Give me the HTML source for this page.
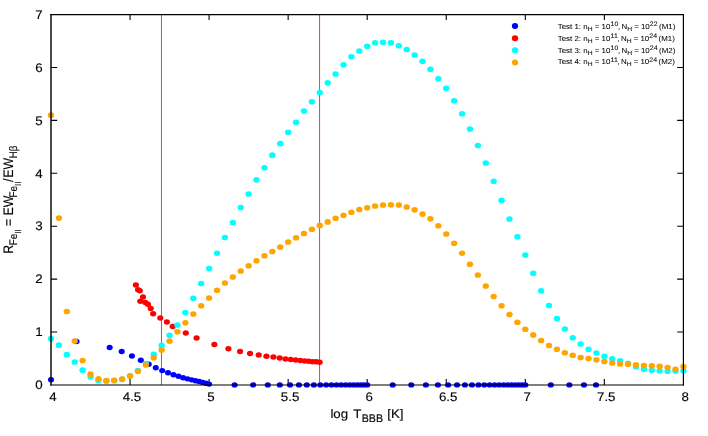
<!DOCTYPE html>
<html><head><meta charset="utf-8"><title>chart</title>
<style>
html,body{margin:0;padding:0;background:#fff;}
svg{display:block;}
text{font-family:"Liberation Sans",sans-serif;fill:#000;stroke:#000;stroke-width:0.14px;text-rendering:geometricPrecision;}
.t{font-size:12px;}
.l{font-size:6.6px;stroke-width:0.05px;}
</style></head><body>
<svg width="708" height="436" viewBox="0 0 708 436">
<rect width="708" height="436" fill="#fff"/>
<path d="M130.05 385.0v-6.1M130.05 14.5v5.4M209.10 385.0v-6.1M209.10 14.5v5.4M288.15 385.0v-6.1M288.15 14.5v5.4M367.20 385.0v-6.1M367.20 14.5v5.4M446.25 385.0v-6.1M446.25 14.5v5.4M525.30 385.0v-6.1M525.30 14.5v5.4M604.35 385.0v-6.1M604.35 14.5v5.4M51.0 332.07h6.2M683.4 332.07h-6.2M51.0 279.14h6.2M683.4 279.14h-6.2M51.0 226.21h6.2M683.4 226.21h-6.2M51.0 173.29h6.2M683.4 173.29h-6.2M51.0 120.36h6.2M683.4 120.36h-6.2M51.0 67.43h6.2M683.4 67.43h-6.2" stroke="#000" stroke-width="1.1" fill="none"/>
<line x1="161.47" y1="14.5" x2="161.47" y2="385.0" stroke="#ff0000" stroke-width="0.8"/>
<line x1="319.57" y1="14.5" x2="319.57" y2="385.0" stroke="#ff0000" stroke-width="0.8"/>
<ellipse cx="51.00" cy="379.80" rx="3.05" ry="2.72" fill="#0000ff"/>
<ellipse cx="76.51" cy="341.50" rx="3.05" ry="2.72" fill="#0000ff"/>
<ellipse cx="109.67" cy="347.55" rx="3.05" ry="2.72" fill="#0000ff"/>
<ellipse cx="121.70" cy="351.57" rx="3.05" ry="2.72" fill="#0000ff"/>
<ellipse cx="131.93" cy="356.00" rx="3.05" ry="2.72" fill="#0000ff"/>
<ellipse cx="140.83" cy="360.27" rx="3.05" ry="2.72" fill="#0000ff"/>
<ellipse cx="148.71" cy="364.30" rx="3.05" ry="2.72" fill="#0000ff"/>
<ellipse cx="155.78" cy="367.80" rx="3.05" ry="2.72" fill="#0000ff"/>
<ellipse cx="162.19" cy="370.60" rx="3.05" ry="2.72" fill="#0000ff"/>
<ellipse cx="168.05" cy="372.80" rx="3.05" ry="2.72" fill="#0000ff"/>
<ellipse cx="173.45" cy="374.80" rx="3.05" ry="2.72" fill="#0000ff"/>
<ellipse cx="178.46" cy="376.30" rx="3.05" ry="2.72" fill="#0000ff"/>
<ellipse cx="183.12" cy="377.70" rx="3.05" ry="2.72" fill="#0000ff"/>
<ellipse cx="187.49" cy="378.85" rx="3.05" ry="2.72" fill="#0000ff"/>
<ellipse cx="191.60" cy="379.85" rx="3.05" ry="2.72" fill="#0000ff"/>
<ellipse cx="195.47" cy="380.70" rx="3.05" ry="2.72" fill="#0000ff"/>
<ellipse cx="199.14" cy="381.50" rx="3.05" ry="2.72" fill="#0000ff"/>
<ellipse cx="202.62" cy="382.40" rx="3.05" ry="2.72" fill="#0000ff"/>
<ellipse cx="205.94" cy="383.20" rx="3.05" ry="2.72" fill="#0000ff"/>
<ellipse cx="209.10" cy="384.10" rx="3.05" ry="2.72" fill="#0000ff"/>
<ellipse cx="234.61" cy="384.90" rx="3.05" ry="2.72" fill="#0000ff"/>
<ellipse cx="253.17" cy="384.90" rx="3.05" ry="2.72" fill="#0000ff"/>
<ellipse cx="267.77" cy="384.90" rx="3.05" ry="2.72" fill="#0000ff"/>
<ellipse cx="279.80" cy="384.90" rx="3.05" ry="2.72" fill="#0000ff"/>
<ellipse cx="290.03" cy="384.90" rx="3.05" ry="2.72" fill="#0000ff"/>
<ellipse cx="298.93" cy="384.90" rx="3.05" ry="2.72" fill="#0000ff"/>
<ellipse cx="306.81" cy="384.90" rx="3.05" ry="2.72" fill="#0000ff"/>
<ellipse cx="313.88" cy="384.90" rx="3.05" ry="2.72" fill="#0000ff"/>
<ellipse cx="320.29" cy="384.90" rx="3.05" ry="2.72" fill="#0000ff"/>
<ellipse cx="326.15" cy="384.90" rx="3.05" ry="2.72" fill="#0000ff"/>
<ellipse cx="331.55" cy="384.90" rx="3.05" ry="2.72" fill="#0000ff"/>
<ellipse cx="336.56" cy="384.90" rx="3.05" ry="2.72" fill="#0000ff"/>
<ellipse cx="341.22" cy="384.90" rx="3.05" ry="2.72" fill="#0000ff"/>
<ellipse cx="345.59" cy="384.90" rx="3.05" ry="2.72" fill="#0000ff"/>
<ellipse cx="349.70" cy="384.90" rx="3.05" ry="2.72" fill="#0000ff"/>
<ellipse cx="353.57" cy="384.90" rx="3.05" ry="2.72" fill="#0000ff"/>
<ellipse cx="357.24" cy="384.90" rx="3.05" ry="2.72" fill="#0000ff"/>
<ellipse cx="360.72" cy="384.90" rx="3.05" ry="2.72" fill="#0000ff"/>
<ellipse cx="364.04" cy="384.90" rx="3.05" ry="2.72" fill="#0000ff"/>
<ellipse cx="367.20" cy="384.90" rx="3.05" ry="2.72" fill="#0000ff"/>
<ellipse cx="392.71" cy="384.90" rx="3.05" ry="2.72" fill="#0000ff"/>
<ellipse cx="411.27" cy="384.90" rx="3.05" ry="2.72" fill="#0000ff"/>
<ellipse cx="425.87" cy="384.90" rx="3.05" ry="2.72" fill="#0000ff"/>
<ellipse cx="437.90" cy="384.90" rx="3.05" ry="2.72" fill="#0000ff"/>
<ellipse cx="448.13" cy="384.90" rx="3.05" ry="2.72" fill="#0000ff"/>
<ellipse cx="457.03" cy="384.90" rx="3.05" ry="2.72" fill="#0000ff"/>
<ellipse cx="464.91" cy="384.90" rx="3.05" ry="2.72" fill="#0000ff"/>
<ellipse cx="471.98" cy="384.90" rx="3.05" ry="2.72" fill="#0000ff"/>
<ellipse cx="478.39" cy="384.90" rx="3.05" ry="2.72" fill="#0000ff"/>
<ellipse cx="484.25" cy="384.90" rx="3.05" ry="2.72" fill="#0000ff"/>
<ellipse cx="489.65" cy="384.90" rx="3.05" ry="2.72" fill="#0000ff"/>
<ellipse cx="494.66" cy="384.90" rx="3.05" ry="2.72" fill="#0000ff"/>
<ellipse cx="499.32" cy="384.90" rx="3.05" ry="2.72" fill="#0000ff"/>
<ellipse cx="503.69" cy="384.90" rx="3.05" ry="2.72" fill="#0000ff"/>
<ellipse cx="507.80" cy="384.90" rx="3.05" ry="2.72" fill="#0000ff"/>
<ellipse cx="511.67" cy="384.90" rx="3.05" ry="2.72" fill="#0000ff"/>
<ellipse cx="515.34" cy="384.90" rx="3.05" ry="2.72" fill="#0000ff"/>
<ellipse cx="518.82" cy="384.90" rx="3.05" ry="2.72" fill="#0000ff"/>
<ellipse cx="522.14" cy="384.90" rx="3.05" ry="2.72" fill="#0000ff"/>
<ellipse cx="525.30" cy="384.90" rx="3.05" ry="2.72" fill="#0000ff"/>
<ellipse cx="550.81" cy="384.90" rx="3.05" ry="2.72" fill="#0000ff"/>
<ellipse cx="569.37" cy="384.90" rx="3.05" ry="2.72" fill="#0000ff"/>
<ellipse cx="583.97" cy="384.90" rx="3.05" ry="2.72" fill="#0000ff"/>
<ellipse cx="596.00" cy="384.90" rx="3.05" ry="2.72" fill="#0000ff"/>
<ellipse cx="135.88" cy="284.89" rx="3.1" ry="2.75" fill="#ff0000"/>
<ellipse cx="138.05" cy="289.63" rx="3.1" ry="2.75" fill="#ff0000"/>
<ellipse cx="139.83" cy="290.82" rx="3.1" ry="2.75" fill="#ff0000"/>
<ellipse cx="143.00" cy="296.95" rx="3.1" ry="2.75" fill="#ff0000"/>
<ellipse cx="140.33" cy="301.20" rx="3.1" ry="2.75" fill="#ff0000"/>
<ellipse cx="145.27" cy="302.49" rx="3.1" ry="2.75" fill="#ff0000"/>
<ellipse cx="147.94" cy="304.37" rx="3.1" ry="2.75" fill="#ff0000"/>
<ellipse cx="150.70" cy="308.42" rx="3.1" ry="2.75" fill="#ff0000"/>
<ellipse cx="153.18" cy="313.76" rx="3.1" ry="2.75" fill="#ff0000"/>
<ellipse cx="160.30" cy="318.00" rx="3.1" ry="2.75" fill="#ff0000"/>
<ellipse cx="166.90" cy="321.90" rx="3.1" ry="2.75" fill="#ff0000"/>
<ellipse cx="172.70" cy="326.40" rx="3.1" ry="2.75" fill="#ff0000"/>
<ellipse cx="185.80" cy="332.90" rx="3.1" ry="2.75" fill="#ff0000"/>
<ellipse cx="196.60" cy="337.90" rx="3.1" ry="2.75" fill="#ff0000"/>
<ellipse cx="214.38" cy="344.60" rx="3.1" ry="2.75" fill="#ff0000"/>
<ellipse cx="228.42" cy="348.80" rx="3.1" ry="2.75" fill="#ff0000"/>
<ellipse cx="240.07" cy="351.40" rx="3.1" ry="2.75" fill="#ff0000"/>
<ellipse cx="250.03" cy="353.60" rx="3.1" ry="2.75" fill="#ff0000"/>
<ellipse cx="258.72" cy="355.10" rx="3.1" ry="2.75" fill="#ff0000"/>
<ellipse cx="266.44" cy="356.30" rx="3.1" ry="2.75" fill="#ff0000"/>
<ellipse cx="273.37" cy="357.10" rx="3.1" ry="2.75" fill="#ff0000"/>
<ellipse cx="279.67" cy="358.10" rx="3.1" ry="2.75" fill="#ff0000"/>
<ellipse cx="285.44" cy="359.00" rx="3.1" ry="2.75" fill="#ff0000"/>
<ellipse cx="290.76" cy="359.60" rx="3.1" ry="2.75" fill="#ff0000"/>
<ellipse cx="295.70" cy="360.10" rx="3.1" ry="2.75" fill="#ff0000"/>
<ellipse cx="300.31" cy="360.60" rx="3.1" ry="2.75" fill="#ff0000"/>
<ellipse cx="304.63" cy="361.00" rx="3.1" ry="2.75" fill="#ff0000"/>
<ellipse cx="308.69" cy="361.30" rx="3.1" ry="2.75" fill="#ff0000"/>
<ellipse cx="312.53" cy="361.65" rx="3.1" ry="2.75" fill="#ff0000"/>
<ellipse cx="316.16" cy="361.80" rx="3.1" ry="2.75" fill="#ff0000"/>
<ellipse cx="319.61" cy="362.20" rx="3.1" ry="2.75" fill="#ff0000"/>
<ellipse cx="51.00" cy="338.70" rx="3.18" ry="2.85" fill="#00ffff"/>
<ellipse cx="58.91" cy="345.20" rx="3.18" ry="2.85" fill="#00ffff"/>
<ellipse cx="66.81" cy="354.70" rx="3.18" ry="2.85" fill="#00ffff"/>
<ellipse cx="74.72" cy="362.00" rx="3.18" ry="2.85" fill="#00ffff"/>
<ellipse cx="82.62" cy="370.20" rx="3.18" ry="2.85" fill="#00ffff"/>
<ellipse cx="90.53" cy="376.70" rx="3.18" ry="2.85" fill="#00ffff"/>
<ellipse cx="98.43" cy="380.50" rx="3.18" ry="2.85" fill="#00ffff"/>
<ellipse cx="106.34" cy="381.00" rx="3.18" ry="2.85" fill="#00ffff"/>
<ellipse cx="114.24" cy="380.70" rx="3.18" ry="2.85" fill="#00ffff"/>
<ellipse cx="122.14" cy="379.40" rx="3.18" ry="2.85" fill="#00ffff"/>
<ellipse cx="130.05" cy="375.80" rx="3.18" ry="2.85" fill="#00ffff"/>
<ellipse cx="137.95" cy="370.60" rx="3.18" ry="2.85" fill="#00ffff"/>
<ellipse cx="145.86" cy="363.50" rx="3.18" ry="2.85" fill="#00ffff"/>
<ellipse cx="153.76" cy="354.30" rx="3.18" ry="2.85" fill="#00ffff"/>
<ellipse cx="161.67" cy="345.40" rx="3.18" ry="2.85" fill="#00ffff"/>
<ellipse cx="169.57" cy="335.25" rx="3.18" ry="2.85" fill="#00ffff"/>
<ellipse cx="177.48" cy="325.00" rx="3.18" ry="2.85" fill="#00ffff"/>
<ellipse cx="185.38" cy="312.50" rx="3.18" ry="2.85" fill="#00ffff"/>
<ellipse cx="193.29" cy="298.25" rx="3.18" ry="2.85" fill="#00ffff"/>
<ellipse cx="201.19" cy="283.50" rx="3.18" ry="2.85" fill="#00ffff"/>
<ellipse cx="209.10" cy="268.50" rx="3.18" ry="2.85" fill="#00ffff"/>
<ellipse cx="217.00" cy="253.25" rx="3.18" ry="2.85" fill="#00ffff"/>
<ellipse cx="224.91" cy="237.50" rx="3.18" ry="2.85" fill="#00ffff"/>
<ellipse cx="232.81" cy="222.50" rx="3.18" ry="2.85" fill="#00ffff"/>
<ellipse cx="240.72" cy="207.50" rx="3.18" ry="2.85" fill="#00ffff"/>
<ellipse cx="248.62" cy="194.00" rx="3.18" ry="2.85" fill="#00ffff"/>
<ellipse cx="256.53" cy="179.85" rx="3.18" ry="2.85" fill="#00ffff"/>
<ellipse cx="264.44" cy="167.75" rx="3.18" ry="2.85" fill="#00ffff"/>
<ellipse cx="272.34" cy="155.20" rx="3.18" ry="2.85" fill="#00ffff"/>
<ellipse cx="280.25" cy="143.70" rx="3.18" ry="2.85" fill="#00ffff"/>
<ellipse cx="288.15" cy="132.25" rx="3.18" ry="2.85" fill="#00ffff"/>
<ellipse cx="296.05" cy="122.25" rx="3.18" ry="2.85" fill="#00ffff"/>
<ellipse cx="303.96" cy="111.00" rx="3.18" ry="2.85" fill="#00ffff"/>
<ellipse cx="311.87" cy="101.75" rx="3.18" ry="2.85" fill="#00ffff"/>
<ellipse cx="319.77" cy="92.50" rx="3.18" ry="2.85" fill="#00ffff"/>
<ellipse cx="327.68" cy="82.75" rx="3.18" ry="2.85" fill="#00ffff"/>
<ellipse cx="335.58" cy="74.00" rx="3.18" ry="2.85" fill="#00ffff"/>
<ellipse cx="343.49" cy="64.75" rx="3.18" ry="2.85" fill="#00ffff"/>
<ellipse cx="351.39" cy="56.75" rx="3.18" ry="2.85" fill="#00ffff"/>
<ellipse cx="359.29" cy="51.00" rx="3.18" ry="2.85" fill="#00ffff"/>
<ellipse cx="367.20" cy="46.25" rx="3.18" ry="2.85" fill="#00ffff"/>
<ellipse cx="375.10" cy="42.75" rx="3.18" ry="2.85" fill="#00ffff"/>
<ellipse cx="383.01" cy="42.25" rx="3.18" ry="2.85" fill="#00ffff"/>
<ellipse cx="390.92" cy="42.75" rx="3.18" ry="2.85" fill="#00ffff"/>
<ellipse cx="398.82" cy="45.75" rx="3.18" ry="2.85" fill="#00ffff"/>
<ellipse cx="406.73" cy="49.50" rx="3.18" ry="2.85" fill="#00ffff"/>
<ellipse cx="414.63" cy="55.00" rx="3.18" ry="2.85" fill="#00ffff"/>
<ellipse cx="422.53" cy="61.25" rx="3.18" ry="2.85" fill="#00ffff"/>
<ellipse cx="430.44" cy="69.25" rx="3.18" ry="2.85" fill="#00ffff"/>
<ellipse cx="438.34" cy="78.75" rx="3.18" ry="2.85" fill="#00ffff"/>
<ellipse cx="446.25" cy="88.25" rx="3.18" ry="2.85" fill="#00ffff"/>
<ellipse cx="454.15" cy="100.75" rx="3.18" ry="2.85" fill="#00ffff"/>
<ellipse cx="462.06" cy="113.75" rx="3.18" ry="2.85" fill="#00ffff"/>
<ellipse cx="469.96" cy="129.00" rx="3.18" ry="2.85" fill="#00ffff"/>
<ellipse cx="477.87" cy="145.50" rx="3.18" ry="2.85" fill="#00ffff"/>
<ellipse cx="485.77" cy="163.00" rx="3.18" ry="2.85" fill="#00ffff"/>
<ellipse cx="493.68" cy="181.25" rx="3.18" ry="2.85" fill="#00ffff"/>
<ellipse cx="501.58" cy="200.25" rx="3.18" ry="2.85" fill="#00ffff"/>
<ellipse cx="509.49" cy="219.00" rx="3.18" ry="2.85" fill="#00ffff"/>
<ellipse cx="517.39" cy="236.75" rx="3.18" ry="2.85" fill="#00ffff"/>
<ellipse cx="525.30" cy="255.00" rx="3.18" ry="2.85" fill="#00ffff"/>
<ellipse cx="533.21" cy="273.25" rx="3.18" ry="2.85" fill="#00ffff"/>
<ellipse cx="541.11" cy="290.75" rx="3.18" ry="2.85" fill="#00ffff"/>
<ellipse cx="549.01" cy="305.50" rx="3.18" ry="2.85" fill="#00ffff"/>
<ellipse cx="556.92" cy="318.50" rx="3.18" ry="2.85" fill="#00ffff"/>
<ellipse cx="564.83" cy="329.00" rx="3.18" ry="2.85" fill="#00ffff"/>
<ellipse cx="572.73" cy="337.75" rx="3.18" ry="2.85" fill="#00ffff"/>
<ellipse cx="580.63" cy="344.00" rx="3.18" ry="2.85" fill="#00ffff"/>
<ellipse cx="588.54" cy="349.25" rx="3.18" ry="2.85" fill="#00ffff"/>
<ellipse cx="596.44" cy="353.00" rx="3.18" ry="2.85" fill="#00ffff"/>
<ellipse cx="604.35" cy="356.25" rx="3.18" ry="2.85" fill="#00ffff"/>
<ellipse cx="612.25" cy="358.75" rx="3.18" ry="2.85" fill="#00ffff"/>
<ellipse cx="620.16" cy="360.75" rx="3.18" ry="2.85" fill="#00ffff"/>
<ellipse cx="628.06" cy="363.25" rx="3.18" ry="2.85" fill="#00ffff"/>
<ellipse cx="635.97" cy="366.75" rx="3.18" ry="2.85" fill="#00ffff"/>
<ellipse cx="643.88" cy="369.25" rx="3.18" ry="2.85" fill="#00ffff"/>
<ellipse cx="651.78" cy="370.25" rx="3.18" ry="2.85" fill="#00ffff"/>
<ellipse cx="659.68" cy="370.75" rx="3.18" ry="2.85" fill="#00ffff"/>
<ellipse cx="667.59" cy="371.25" rx="3.18" ry="2.85" fill="#00ffff"/>
<ellipse cx="675.50" cy="371.00" rx="3.18" ry="2.85" fill="#00ffff"/>
<ellipse cx="683.40" cy="370.75" rx="3.18" ry="2.85" fill="#00ffff"/>
<ellipse cx="51.00" cy="115.20" rx="3.18" ry="2.85" fill="#ffa500"/>
<ellipse cx="58.91" cy="218.10" rx="3.18" ry="2.85" fill="#ffa500"/>
<ellipse cx="66.81" cy="311.50" rx="3.18" ry="2.85" fill="#ffa500"/>
<ellipse cx="74.72" cy="341.00" rx="3.18" ry="2.85" fill="#ffa500"/>
<ellipse cx="82.62" cy="360.50" rx="3.18" ry="2.85" fill="#ffa500"/>
<ellipse cx="90.53" cy="374.20" rx="3.18" ry="2.85" fill="#ffa500"/>
<ellipse cx="98.43" cy="378.80" rx="3.18" ry="2.85" fill="#ffa500"/>
<ellipse cx="106.34" cy="380.70" rx="3.18" ry="2.85" fill="#ffa500"/>
<ellipse cx="114.24" cy="380.30" rx="3.18" ry="2.85" fill="#ffa500"/>
<ellipse cx="122.14" cy="379.10" rx="3.18" ry="2.85" fill="#ffa500"/>
<ellipse cx="130.05" cy="376.10" rx="3.18" ry="2.85" fill="#ffa500"/>
<ellipse cx="137.95" cy="371.30" rx="3.18" ry="2.85" fill="#ffa500"/>
<ellipse cx="145.86" cy="365.00" rx="3.18" ry="2.85" fill="#ffa500"/>
<ellipse cx="153.76" cy="357.70" rx="3.18" ry="2.85" fill="#ffa500"/>
<ellipse cx="161.67" cy="349.90" rx="3.18" ry="2.85" fill="#ffa500"/>
<ellipse cx="169.57" cy="341.10" rx="3.18" ry="2.85" fill="#ffa500"/>
<ellipse cx="177.48" cy="331.75" rx="3.18" ry="2.85" fill="#ffa500"/>
<ellipse cx="185.38" cy="322.75" rx="3.18" ry="2.85" fill="#ffa500"/>
<ellipse cx="193.29" cy="314.00" rx="3.18" ry="2.85" fill="#ffa500"/>
<ellipse cx="201.19" cy="305.75" rx="3.18" ry="2.85" fill="#ffa500"/>
<ellipse cx="209.10" cy="298.00" rx="3.18" ry="2.85" fill="#ffa500"/>
<ellipse cx="217.00" cy="290.25" rx="3.18" ry="2.85" fill="#ffa500"/>
<ellipse cx="224.91" cy="283.00" rx="3.18" ry="2.85" fill="#ffa500"/>
<ellipse cx="232.81" cy="277.00" rx="3.18" ry="2.85" fill="#ffa500"/>
<ellipse cx="240.72" cy="271.00" rx="3.18" ry="2.85" fill="#ffa500"/>
<ellipse cx="248.62" cy="265.75" rx="3.18" ry="2.85" fill="#ffa500"/>
<ellipse cx="256.53" cy="260.75" rx="3.18" ry="2.85" fill="#ffa500"/>
<ellipse cx="264.44" cy="255.75" rx="3.18" ry="2.85" fill="#ffa500"/>
<ellipse cx="272.34" cy="251.50" rx="3.18" ry="2.85" fill="#ffa500"/>
<ellipse cx="280.25" cy="247.00" rx="3.18" ry="2.85" fill="#ffa500"/>
<ellipse cx="288.15" cy="242.00" rx="3.18" ry="2.85" fill="#ffa500"/>
<ellipse cx="296.05" cy="237.75" rx="3.18" ry="2.85" fill="#ffa500"/>
<ellipse cx="303.96" cy="233.50" rx="3.18" ry="2.85" fill="#ffa500"/>
<ellipse cx="311.87" cy="229.35" rx="3.18" ry="2.85" fill="#ffa500"/>
<ellipse cx="319.77" cy="225.40" rx="3.18" ry="2.85" fill="#ffa500"/>
<ellipse cx="327.68" cy="221.90" rx="3.18" ry="2.85" fill="#ffa500"/>
<ellipse cx="335.58" cy="218.25" rx="3.18" ry="2.85" fill="#ffa500"/>
<ellipse cx="343.49" cy="215.25" rx="3.18" ry="2.85" fill="#ffa500"/>
<ellipse cx="351.39" cy="212.25" rx="3.18" ry="2.85" fill="#ffa500"/>
<ellipse cx="359.29" cy="209.50" rx="3.18" ry="2.85" fill="#ffa500"/>
<ellipse cx="367.20" cy="207.75" rx="3.18" ry="2.85" fill="#ffa500"/>
<ellipse cx="375.10" cy="206.00" rx="3.18" ry="2.85" fill="#ffa500"/>
<ellipse cx="383.01" cy="205.00" rx="3.18" ry="2.85" fill="#ffa500"/>
<ellipse cx="390.92" cy="204.75" rx="3.18" ry="2.85" fill="#ffa500"/>
<ellipse cx="398.82" cy="205.00" rx="3.18" ry="2.85" fill="#ffa500"/>
<ellipse cx="406.73" cy="207.00" rx="3.18" ry="2.85" fill="#ffa500"/>
<ellipse cx="414.63" cy="209.80" rx="3.18" ry="2.85" fill="#ffa500"/>
<ellipse cx="422.53" cy="214.05" rx="3.18" ry="2.85" fill="#ffa500"/>
<ellipse cx="430.44" cy="218.80" rx="3.18" ry="2.85" fill="#ffa500"/>
<ellipse cx="438.34" cy="225.75" rx="3.18" ry="2.85" fill="#ffa500"/>
<ellipse cx="446.25" cy="234.00" rx="3.18" ry="2.85" fill="#ffa500"/>
<ellipse cx="454.15" cy="243.25" rx="3.18" ry="2.85" fill="#ffa500"/>
<ellipse cx="462.06" cy="253.25" rx="3.18" ry="2.85" fill="#ffa500"/>
<ellipse cx="469.96" cy="264.25" rx="3.18" ry="2.85" fill="#ffa500"/>
<ellipse cx="477.87" cy="275.00" rx="3.18" ry="2.85" fill="#ffa500"/>
<ellipse cx="485.77" cy="286.00" rx="3.18" ry="2.85" fill="#ffa500"/>
<ellipse cx="493.68" cy="296.50" rx="3.18" ry="2.85" fill="#ffa500"/>
<ellipse cx="501.58" cy="305.75" rx="3.18" ry="2.85" fill="#ffa500"/>
<ellipse cx="509.49" cy="314.50" rx="3.18" ry="2.85" fill="#ffa500"/>
<ellipse cx="517.39" cy="322.25" rx="3.18" ry="2.85" fill="#ffa500"/>
<ellipse cx="525.30" cy="329.25" rx="3.18" ry="2.85" fill="#ffa500"/>
<ellipse cx="533.21" cy="334.90" rx="3.18" ry="2.85" fill="#ffa500"/>
<ellipse cx="541.11" cy="340.50" rx="3.18" ry="2.85" fill="#ffa500"/>
<ellipse cx="549.01" cy="345.50" rx="3.18" ry="2.85" fill="#ffa500"/>
<ellipse cx="556.92" cy="349.25" rx="3.18" ry="2.85" fill="#ffa500"/>
<ellipse cx="564.83" cy="352.75" rx="3.18" ry="2.85" fill="#ffa500"/>
<ellipse cx="572.73" cy="355.25" rx="3.18" ry="2.85" fill="#ffa500"/>
<ellipse cx="580.63" cy="357.50" rx="3.18" ry="2.85" fill="#ffa500"/>
<ellipse cx="588.54" cy="358.50" rx="3.18" ry="2.85" fill="#ffa500"/>
<ellipse cx="596.44" cy="359.75" rx="3.18" ry="2.85" fill="#ffa500"/>
<ellipse cx="604.35" cy="361.50" rx="3.18" ry="2.85" fill="#ffa500"/>
<ellipse cx="612.25" cy="363.00" rx="3.18" ry="2.85" fill="#ffa500"/>
<ellipse cx="620.16" cy="364.00" rx="3.18" ry="2.85" fill="#ffa500"/>
<ellipse cx="628.06" cy="364.25" rx="3.18" ry="2.85" fill="#ffa500"/>
<ellipse cx="635.97" cy="364.75" rx="3.18" ry="2.85" fill="#ffa500"/>
<ellipse cx="643.88" cy="365.50" rx="3.18" ry="2.85" fill="#ffa500"/>
<ellipse cx="651.78" cy="365.75" rx="3.18" ry="2.85" fill="#ffa500"/>
<ellipse cx="659.68" cy="366.25" rx="3.18" ry="2.85" fill="#ffa500"/>
<ellipse cx="667.59" cy="367.50" rx="3.18" ry="2.85" fill="#ffa500"/>
<ellipse cx="675.50" cy="369.25" rx="3.18" ry="2.85" fill="#ffa500"/>
<ellipse cx="683.40" cy="366.50" rx="3.18" ry="2.85" fill="#ffa500"/>
<ellipse cx="515.00" cy="26.10" rx="3.15" ry="3.00" fill="#0000ff"/>
<ellipse cx="515.00" cy="38.23" rx="3.15" ry="3.00" fill="#ff0000"/>
<ellipse cx="515.00" cy="50.36" rx="3.15" ry="3.00" fill="#00ffff"/>
<ellipse cx="515.00" cy="62.49" rx="3.15" ry="3.00" fill="#ffa500"/>
<path d="M51.0 13.9V385.6" stroke="#000" stroke-width="1.42" fill="none"/>
<path d="M50.3 385.0H684.0" stroke="#000" stroke-width="1.05" fill="none"/>
<path d="M50.3 14.55H684.0" stroke="#000" stroke-width="1.15" fill="none"/>
<path d="M683.4 13.9V385.6" stroke="#000" stroke-width="1.2" fill="none"/>
<g opacity="0.996">
<text transform="translate(52.90,400.8) scale(1.11,1.04)" text-anchor="middle" class="t">4</text>
<text transform="translate(131.95,400.8) scale(1.11,1.04)" text-anchor="middle" class="t">4.5</text>
<text transform="translate(211.00,400.8) scale(1.11,1.04)" text-anchor="middle" class="t">5</text>
<text transform="translate(290.05,400.8) scale(1.11,1.04)" text-anchor="middle" class="t">5.5</text>
<text transform="translate(369.10,400.8) scale(1.11,1.04)" text-anchor="middle" class="t">6</text>
<text transform="translate(448.15,400.8) scale(1.11,1.04)" text-anchor="middle" class="t">6.5</text>
<text transform="translate(527.20,400.8) scale(1.11,1.04)" text-anchor="middle" class="t">7</text>
<text transform="translate(606.25,400.8) scale(1.11,1.04)" text-anchor="middle" class="t">7.5</text>
<text transform="translate(685.30,400.8) scale(1.11,1.04)" text-anchor="middle" class="t">8</text>
<text transform="translate(42.7,389.25) scale(1.11,1.04)" text-anchor="end" class="t">0</text>
<text transform="translate(42.7,336.32) scale(1.11,1.04)" text-anchor="end" class="t">1</text>
<text transform="translate(42.7,283.39) scale(1.11,1.04)" text-anchor="end" class="t">2</text>
<text transform="translate(42.7,230.46) scale(1.11,1.04)" text-anchor="end" class="t">3</text>
<text transform="translate(42.7,177.54) scale(1.11,1.04)" text-anchor="end" class="t">4</text>
<text transform="translate(42.7,124.61) scale(1.11,1.04)" text-anchor="end" class="t">5</text>
<text transform="translate(42.7,71.68) scale(1.11,1.04)" text-anchor="end" class="t">6</text>
<text transform="translate(42.7,18.75) scale(1.11,1.04)" text-anchor="end" class="t">7</text>
<text transform="translate(330.4,418.1) scale(1.11,1.04)" class="t">log<tspan dx="1.5"> T</tspan></text>
<text transform="translate(361.67,421.75) scale(1.11,1.17)" class="t" style="font-size:9.6px">BBB</text>
<text transform="translate(387.23,418.1) scale(1.11,1.04)" class="t">[K]</text>
<text transform="translate(12.8,253.7) rotate(-90) scale(1.025,1.15)" class="t">R<tspan dy="3.6" dx="-0.5" font-size="9.6">Fe</tspan><tspan dy="3.1" font-size="7.7">II</tspan><tspan dy="-6.7" font-size="12"> = EW</tspan><tspan dy="3.6" dx="-1.75" font-size="9.6">Fe</tspan><tspan dy="3.1" font-size="7.7">II</tspan><tspan dy="-6.7" dx="-0.4" font-size="12">/</tspan><tspan dx="0.75" font-size="12">EW</tspan><tspan dy="3.6" dx="-0.35" font-size="9.6">Hβ</tspan></text>
<text transform="translate(557.7,28.60) scale(1.2,1.1)" class="l">Test 1: n<tspan dy="1.8" font-size="5.6">H</tspan><tspan dy="-1.8"> = 10</tspan><tspan dy="-2.3" dx="0.2" font-size="5.8">10</tspan><tspan dy="2.3" dx="-0.3">,</tspan><tspan dx="-0.6"> N</tspan><tspan dy="1.8" font-size="5.6">H</tspan><tspan dy="-1.8" dx="-0.2"> = 10</tspan><tspan dy="-2.3" dx="0" font-size="5.8">22</tspan><tspan dy="2.3" dx="-0.5"> (M1)</tspan></text>
<text transform="translate(557.7,40.60) scale(1.2,1.1)" class="l">Test 2: n<tspan dy="1.8" font-size="5.6">H</tspan><tspan dy="-1.8"> = 10</tspan><tspan dy="-2.3" dx="0.2" font-size="5.8">11</tspan><tspan dy="2.3" dx="-0.3">,</tspan><tspan dx="-0.6"> N</tspan><tspan dy="1.8" font-size="5.6">H</tspan><tspan dy="-1.8" dx="-0.2"> = 10</tspan><tspan dy="-2.3" dx="0" font-size="5.8">24</tspan><tspan dy="2.3" dx="-0.5"> (M1)</tspan></text>
<text transform="translate(557.7,52.60) scale(1.2,1.1)" class="l">Test 3: n<tspan dy="1.8" font-size="5.6">H</tspan><tspan dy="-1.8"> = 10</tspan><tspan dy="-2.3" dx="0.2" font-size="5.8">10</tspan><tspan dy="2.3" dx="-0.3">,</tspan><tspan dx="-0.6"> N</tspan><tspan dy="1.8" font-size="5.6">H</tspan><tspan dy="-1.8" dx="-0.2"> = 10</tspan><tspan dy="-2.3" dx="0" font-size="5.8">24</tspan><tspan dy="2.3" dx="-0.5"> (M2)</tspan></text>
<text transform="translate(557.7,64.40) scale(1.2,1.1)" class="l">Test 4: n<tspan dy="1.8" font-size="5.6">H</tspan><tspan dy="-1.8"> = 10</tspan><tspan dy="-2.3" dx="0.2" font-size="5.8">11</tspan><tspan dy="2.3" dx="-0.3">,</tspan><tspan dx="-0.6"> N</tspan><tspan dy="1.8" font-size="5.6">H</tspan><tspan dy="-1.8" dx="-0.2"> = 10</tspan><tspan dy="-2.3" dx="0" font-size="5.8">24</tspan><tspan dy="2.3" dx="-0.5"> (M2)</tspan></text>
</g>
</svg>
</body></html>
